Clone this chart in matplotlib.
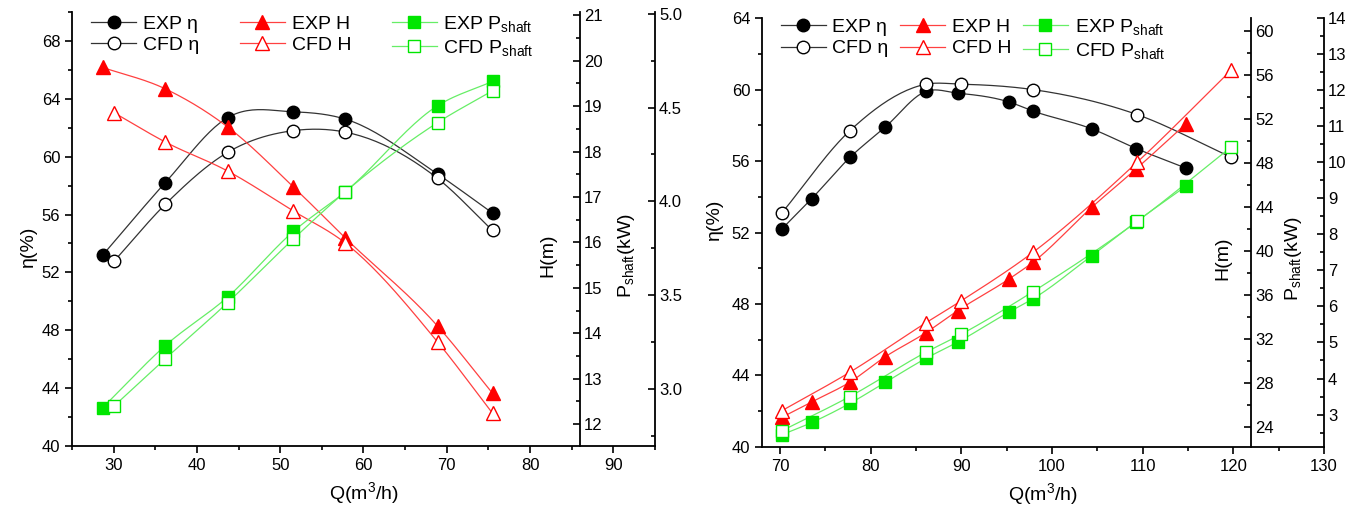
import matplotlib
matplotlib.use("Agg")
import matplotlib.pyplot as plt
import numpy as np
from matplotlib.ticker import MultipleLocator, FormatStrFormatter
from matplotlib.lines import Line2D

plt.rcParams['font.family'] = ['Liberation Sans', 'DejaVu Sans']
plt.rcParams['mathtext.fontset'] = 'custom'
plt.rcParams['mathtext.rm'] = 'Liberation Sans'
plt.rcParams['mathtext.it'] = 'Liberation Sans:italic'

# left panel data
q_exp_L = [28.7, 36.2, 43.7, 51.6, 57.8, 68.9, 75.5]
q_cfd_L = [30.1, 36.2, 43.7, 51.6, 57.8, 68.9, 75.5]
eta_exp_L = [53.2, 58.2, 62.7, 63.1, 62.6, 58.8, 56.1]
eta_cfd_L = [52.8, 56.7, 60.3, 61.8, 61.7, 58.5, 54.9]
h_exp_L = [19.85, 19.38, 18.54, 17.22, 16.10, 14.16, 12.68]
h_cfd_L = [18.85, 18.21, 17.57, 16.69, 15.99, 13.81, 12.24]
p_exp_L = [2.90, 3.23, 3.49, 3.84, 4.05, 4.51, 4.64]
p_cfd_L = [2.91, 3.16, 3.46, 3.80, 4.05, 4.42, 4.59]

# right panel data
q_exp_R = [70.2, 73.5, 77.7, 81.6, 86.1, 89.6, 95.3, 97.9, 104.4, 109.3, 114.8]
eta_exp_R = [52.2, 53.9, 56.2, 57.9, 59.9, 59.8, 59.3, 58.8, 57.8, 56.7, 55.6]
h_exp_R = [24.9, 26.3, 28.1, 30.4, 32.6, 34.6, 37.5, 39.0, 44.0, 47.5, 51.6]
p_exp_R = [2.44, 2.78, 3.31, 3.89, 4.56, 5.01, 5.85, 6.21, 7.41, 8.35, 9.34]
q_cfd_R = [70.2, 77.7, 86.1, 90.0, 97.9, 109.4, 119.8]
eta_cfd_R = [53.1, 57.7, 60.3, 60.3, 60.0, 58.6, 56.2]
h_cfd_R = [25.5, 29.0, 33.5, 35.5, 39.9, 48.1, 56.5]
p_cfd_R = [2.55, 3.50, 4.73, 5.23, 6.41, 8.36, 10.43]

BLACK = '#000000'
RED = '#ff0000'
GREEN = '#00e600'
LINE_BLACK = '#333333'
LINE_RED = '#ff4040'
LINE_GREEN = '#66ee66'


def smooth(x, y, n=25):
    # cubic through the points with limited tangents, only for drawing the line
    x = np.asarray(x, float)
    y = np.asarray(y, float)
    h = np.diff(x)
    d = np.diff(y) / h
    m = np.gradient(y, x)
    for k in range(len(d)):
        if d[k] == 0:
            continue
        a = m[k] / d[k]
        b = m[k + 1] / d[k]
        if a > 0 and b > 0 and a * a + b * b > 9:
            s = 3 / np.hypot(a, b)
            m[k] = s * a * d[k]
            m[k + 1] = s * b * d[k]
    xs, ys = [], []
    t = np.linspace(0, 1, n)
    for i in range(len(x) - 1):
        hh = h[i]
        h00 = 2 * t**3 - 3 * t**2 + 1
        h10 = t**3 - 2 * t**2 + t
        h01 = -2 * t**3 + 3 * t**2
        h11 = t**3 - t**2
        xs.append(x[i] + t * hh)
        ys.append(h00 * y[i] + h10 * hh * m[i] + h01 * y[i + 1] + h11 * hh * m[i + 1])
    return np.concatenate(xs), np.concatenate(ys)


def series(ax, x, y, lc, mc, marker, filled, ms):
    sx, sy = smooth(x, y)
    ax.plot(sx, sy, color=lc, lw=0.9, zorder=2)
    ax.plot(x, y, ls='none', marker=marker, ms=ms,
            mfc=mc if filled else 'white', mec=mc, mew=1.0, zorder=3)


def style_right(ax, pos):
    for s in ['left', 'top', 'bottom']:
        ax.spines[s].set_visible(False)
    ax.spines['right'].set_position(pos)
    ax.spines['right'].set_linewidth(1.3)
    ax.tick_params(axis='y', which='both', direction='in', right=True, labelright=True,
                   width=1.2, labelsize=12, pad=3)
    ax.tick_params(axis='y', which='major', length=5)
    ax.tick_params(axis='y', which='minor', length=3)


def make_panel(rect, xlim, xmaj, h_spine, etalim, etamaj, hlim, hmaj, hmin,
               plim, pmaj, pmin, pfmt, data, labx, leg_sp, leg_y):
    ax = fig.add_axes(rect)
    ax2 = ax.twinx()
    ax3 = ax.twinx()
    ax.set_xlim(*xlim)
    ax.set_ylim(*etalim)
    ax2.set_ylim(*hlim)
    ax3.set_ylim(*plim)
    for s in ['top', 'right']:
        ax.spines[s].set_visible(False)
    for s in ['left', 'bottom']:
        ax.spines[s].set_linewidth(1.3)
    ax.xaxis.set_major_locator(MultipleLocator(xmaj))
    ax.xaxis.set_minor_locator(MultipleLocator(xmaj / 2))
    ax.yaxis.set_major_locator(MultipleLocator(etamaj))
    ax.yaxis.set_minor_locator(MultipleLocator(etamaj / 2))
    ax.tick_params(which='both', direction='out', width=1.2, labelsize=12)
    ax.tick_params(which='major', length=5)
    ax.tick_params(which='minor', length=3)

    style_right(ax2, ('data', h_spine))
    style_right(ax3, ('axes', 1.0))
    ax2.yaxis.set_major_locator(MultipleLocator(hmaj))
    ax2.yaxis.set_minor_locator(MultipleLocator(hmin))
    ax3.yaxis.set_major_locator(MultipleLocator(pmaj))
    ax3.yaxis.set_minor_locator(MultipleLocator(pmin))
    ax3.yaxis.set_major_formatter(FormatStrFormatter(pfmt))

    (qe, qc, ee, ec, he, hc, pe, pc) = data
    series(ax, qe, ee, LINE_BLACK, BLACK, 'o', True, 9)
    series(ax, qc, ec, LINE_BLACK, BLACK, 'o', False, 9)
    series(ax2, qe, he, LINE_RED, RED, '^', True, 9.5)
    series(ax2, qc, hc, LINE_RED, RED, '^', False, 9.5)
    series(ax3, qe, pe, LINE_GREEN, GREEN, 's', True, 8)
    series(ax3, qc, pc, LINE_GREEN, GREEN, 's', False, 8)

    ax.set_xlabel('Q(m$^3$/h)', fontsize=14, labelpad=5)
    ax.set_ylabel('η(%)', fontsize=14)
    ax.yaxis.set_label_coords(labx[0], labx[1])
    ax2.set_ylabel('H(m)', fontsize=14)
    ax2.yaxis.set_label_position('left')
    ax2.yaxis.set_label_coords(labx[2], 0.44)
    ax3.set_ylabel(r'P$_{\mathrm{shaft}}$(kW)', fontsize=14)
    ax3.yaxis.set_label_position('left')
    ax3.yaxis.set_label_coords(labx[3], 0.44)
    for a in (ax, ax2, ax3):
        a.yaxis.label.set_va('center')

    handles = [
        Line2D([], [], color=LINE_BLACK, lw=0.9, marker='o', ms=9, mfc=BLACK, mec=BLACK),
        Line2D([], [], color=LINE_BLACK, lw=0.9, marker='o', ms=9, mfc='white', mec=BLACK),
        Line2D([], [], color=LINE_RED, lw=0.9, marker='^', ms=9.5, mfc=RED, mec=RED),
        Line2D([], [], color=LINE_RED, lw=0.9, marker='^', ms=9.5, mfc='white', mec=RED),
        Line2D([], [], color=LINE_GREEN, lw=0.9, marker='s', ms=8, mfc=GREEN, mec=GREEN),
        Line2D([], [], color=LINE_GREEN, lw=0.9, marker='s', ms=8, mfc='white', mec=GREEN),
    ]
    labels = ['EXP η', 'CFD η', 'EXP H', 'CFD H',
              r'EXP P$_{\mathrm{shaft}}$', r'CFD P$_{\mathrm{shaft}}$']
    ax3.legend(handles, labels, ncol=3, frameon=False, fontsize=14,
               loc='upper left', bbox_to_anchor=(0.02, leg_y),
               handlelength=2.3, handletextpad=0.35, columnspacing=leg_sp,
               labelspacing=0.2, borderaxespad=0)
    return ax


fig = plt.figure(figsize=(13.65, 5.13), dpi=100)

make_panel([0.0527, 0.1306, 0.4271, 0.846], (25, 95), 10, 86,
           (40, 70), 4, (11.52, 21.07), 1, 0.5, (2.695, 5.01), 0.5, 0.25, '%.1f',
           (q_exp_L, q_cfd_L, eta_exp_L, eta_cfd_L, h_exp_L, h_cfd_L, p_exp_L, p_cfd_L),
           (-0.075, 0.46, 0.816, 0.952), 2.1, 1.014)

make_panel([0.5582, 0.1287, 0.4117, 0.836], (68, 130), 10, 122,
           (40, 64), 4, (22.2, 61.2), 4, 2, (2.1, 14.0), 1, 0.5, '%d',
           (q_exp_R, q_cfd_R, eta_exp_R, eta_cfd_R, h_exp_R, h_cfd_R, p_exp_R, p_cfd_R),
           (-0.085, 0.53, 0.820, 0.945), 0.6, 1.021)

fig.savefig('out.png', dpi=100)
